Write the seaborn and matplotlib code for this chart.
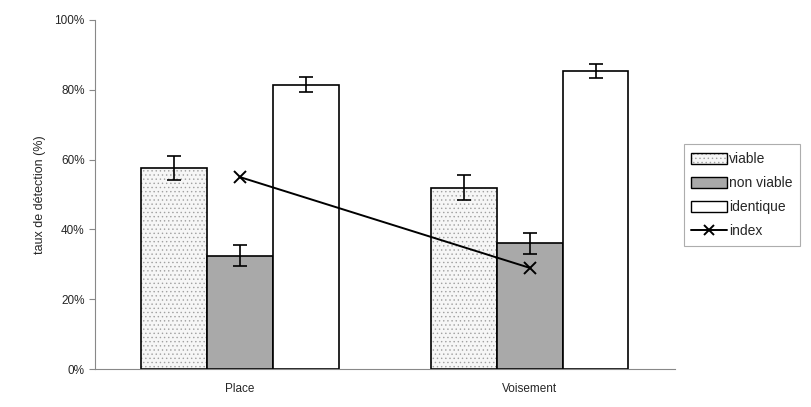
import numpy as np
import pandas as pd
import matplotlib
matplotlib.use("Agg")
import matplotlib.pyplot as plt
import matplotlib.colors as mcolors
from matplotlib.patches import Patch
from matplotlib.lines import Line2D
from matplotlib.ticker import PercentFormatter
import seaborn as sns

# data (%)
categories = ["Place", "Voisement"]
conditions = ["viable", "non viable", "identique"]
viable = [57.5, 52.0]
non_viable = [32.5, 36.0]
identique = [81.5, 85.5]
viable_err = [3.4, 3.6]
non_viable_err = [3.0, 3.0]
identique_err = [2.2, 2.0]
index = [55.0, 29.0]

sns.set_style("white")
plt.rcParams['font.family'] = ['Liberation Sans', 'DejaVu Sans']
plt.rcParams['hatch.linewidth'] = 0.5

rows = []
for c, vals, errs in zip(conditions, [viable, non_viable, identique],
                         [viable_err, non_viable_err, identique_err]):
    for cat, v, e in zip(categories, vals, errs):
        rows.append({"cat": cat, "cond": c, "val": v, "err": e})
df = pd.DataFrame(rows)

fills = {"viable": "#f6f6f6", "non viable": "#a9a9a9", "identique": "white"}
hatches = {"viable": "....", "non viable": "", "identique": ""}
dot_color = mcolors.to_rgba("#a0a0a0")

fig = plt.figure(figsize=(8.12, 4.07), dpi=100)
ax = fig.add_axes([0.117, 0.093, 0.714, 0.858])

sns.barplot(data=df, x="cat", y="val", hue="cond", order=categories,
            hue_order=conditions, palette=fills, width=0.68, gap=0,
            edgecolor="black", linewidth=1.2, errorbar=None, legend=False, ax=ax)

for cont, cond in zip(ax.containers, conditions):
    sub = df[df.cond == cond].set_index("cat").loc[categories]
    xs = [p.get_x() + p.get_width() / 2 for p in cont.patches]
    for p in cont.patches:
        p.set_hatch(hatches[cond])
        p._hatch_color = dot_color
    ax.errorbar(xs, sub["val"], yerr=sub["err"], fmt="none", ecolor="black",
                elinewidth=1.2, capsize=5, capthick=1.2, zorder=5)

sns.pointplot(x=categories, y=index, color="black", marker="x", markersize=8,
              linewidth=1.4, markeredgewidth=1.4, ax=ax, order=categories)

ax.set_ylim(0, 100)
ax.set_xlim(-0.5, 1.5)
ax.set_yticks(np.arange(0, 101, 20))
ax.yaxis.set_major_formatter(PercentFormatter(decimals=0))
ax.set_xticks([0, 1])
ax.set_xticks([0.5], minor=True)
ax.tick_params(axis="x", which="major", length=0, labelsize=8.5, pad=10)
ax.tick_params(axis="x", which="minor", length=4, color="#888888", direction="out")
ax.tick_params(axis="y", length=4, color="#888888", direction="out", labelsize=8.5, left=True)
ax.set_xlabel("")
ax.set_ylabel("taux de détection (%)", fontsize=9, labelpad=6)
for s in ["top", "right"]:
    ax.spines[s].set_visible(False)
for s in ["left", "bottom"]:
    ax.spines[s].set_color("#888888")
    ax.spines[s].set_linewidth(0.8)

viable_handle = Patch(facecolor=fills["viable"], edgecolor="black", hatch="....", label="viable")
viable_handle._hatch_color = dot_color
handles = [
    viable_handle,
    Patch(facecolor=fills["non viable"], edgecolor="black", label="non viable"),
    Patch(facecolor=fills["identique"], edgecolor="black", label="identique"),
    Line2D([], [], color="black", marker="x", markersize=7, markeredgewidth=1.4,
           linewidth=1.4, label="index"),
]
leg = fig.legend(handles=handles, loc="upper left", bbox_to_anchor=(0.842, 0.645),
                 fontsize=10, frameon=True, fancybox=False, handlelength=2.6,
                 handleheight=0.9, handletextpad=0.1, borderpad=0.55,
                 labelspacing=0.72, borderaxespad=0)
leg.get_frame().set_edgecolor("#999999")
leg.get_frame().set_linewidth(0.8)

fig.savefig("out.png", dpi=100)
